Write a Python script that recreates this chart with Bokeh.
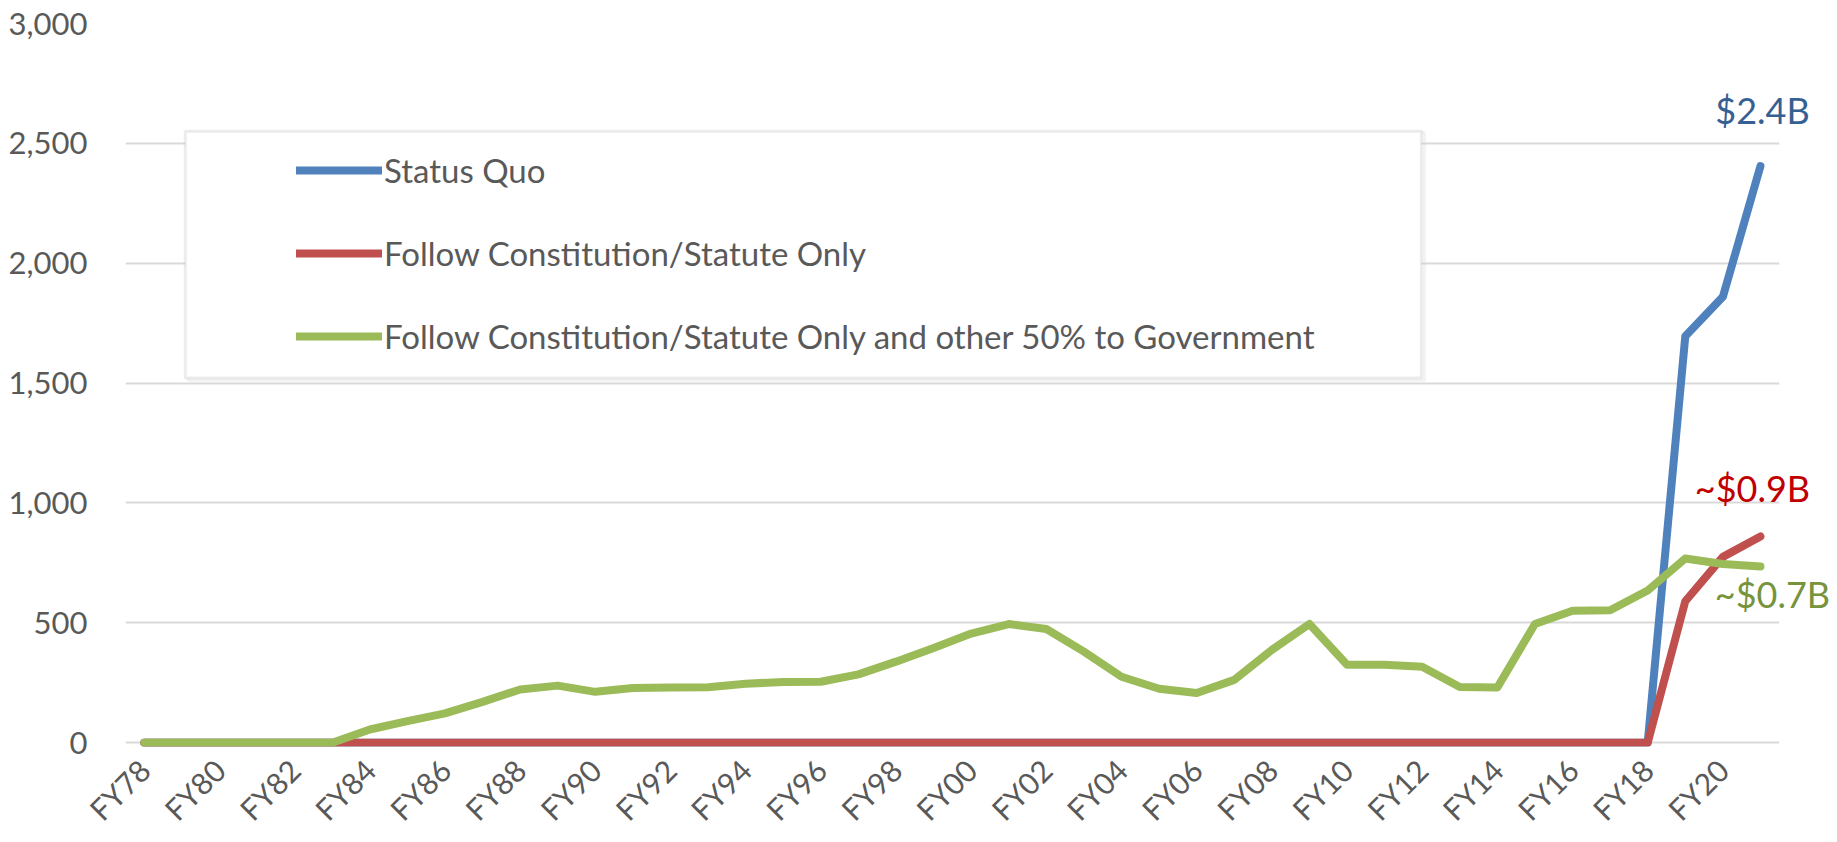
import math
from bokeh.plotting import figure
from bokeh.models import (Range1d, Legend, LegendItem, Label, BoxAnnotation,
                          NumeralTickFormatter, SingleIntervalTicker, FixedTicker)
from bokeh.embed import file_html
from bokeh.resources import INLINE

years = ["FY78", "FY79", "FY80", "FY81", "FY82", "FY83", "FY84", "FY85", "FY86", "FY87",
         "FY88", "FY89", "FY90", "FY91", "FY92", "FY93", "FY94", "FY95", "FY96", "FY97",
         "FY98", "FY99", "FY00", "FY01", "FY02", "FY03", "FY04", "FY05", "FY06", "FY07",
         "FY08", "FY09", "FY10", "FY11", "FY12", "FY13", "FY14", "FY15", "FY16", "FY17",
         "FY18", "FY19", "FY20", "FY21"]

status_quo = [0, 0, 0, 0, 0, 0, 0, 0, 0, 0,
              0, 0, 0, 0, 0, 0, 0, 0, 0, 0,
              0, 0, 0, 0, 0, 0, 0, 0, 0, 0,
              0, 0, 0, 0, 0, 0, 0, 0, 0, 0,
              0, 1695, 1860, 2405]

constitution_only = [0, 0, 0, 0, 0, 0, 0, 0, 0, 0,
                     0, 0, 0, 0, 0, 0, 0, 0, 0, 0,
                     0, 0, 0, 0, 0, 0, 0, 0, 0, 0,
                     0, 0, 0, 0, 0, 0, 0, 0, 0, 0,
                     0, 590, 775, 860]

constitution_50_gov = [0, 0, 0, 0, 0, 0, 55, 90, 122, 170,
                       222, 238, 212, 228, 230, 231, 246, 253, 254, 285,
                       338, 395, 455, 495, 474, 380, 275, 225, 207, 262,
                       387, 495, 325, 325, 317, 232, 230, 495, 550, 552,
                       635, 768, 745, 735]

series_names = ["Status Quo",
                "Follow Constitution/Statute Only",
                "Follow Constitution/Statute Only and other 50% to Government"]
end_labels = ["$2.4B", "~$0.9B", "~$0.7B"]

FONT = "Lato"
GREY = "#595959"

xs = list(range(len(years)))
last = len(years) - 1

p = figure(width=1837, height=842,
           x_range=Range1d(-0.5, 45.05), y_range=Range1d(-16, 3000),
           output_backend="svg", toolbar_location=None,
           min_border_left=125, min_border_right=0, min_border_top=23, min_border_bottom=96)
p.outline_line_color = None
p.background_fill_color = "white"
p.border_fill_color = "white"

p.xgrid.grid_line_color = None
p.ygrid.grid_line_color = "#D9D9D9"
p.ygrid.grid_line_width = 2

p.yaxis.ticker = SingleIntervalTicker(interval=500)
p.yaxis.formatter = NumeralTickFormatter(format="0,0")
label_idx = [i for i in xs if i % 2 == 0]
p.xaxis.ticker = FixedTicker(ticks=label_idx)
p.xaxis.major_label_overrides = {i: years[i] for i in label_idx}
for ax in (p.xaxis[0], p.yaxis[0]):
    ax.axis_line_color = None
    ax.major_tick_line_color = None
    ax.minor_tick_line_color = None
    ax.major_tick_out = 0
    ax.major_tick_in = 0
    ax.major_label_text_font = FONT
    ax.major_label_text_color = GREY

p.yaxis.major_label_text_font_size = "31px"
p.yaxis.major_label_standoff = 34
p.xaxis.major_label_text_font_size = "30px"
p.xaxis.major_label_orientation = math.pi / 4
p.xaxis.major_label_standoff = 18

# blank out gridlines to the right of the category area (plot area ends after last year)
p.add_layout(BoxAnnotation(left=last + 0.5, right=60, top=4000, bottom=-500,
                           fill_color="white", fill_alpha=1.0, line_color=None,
                           level="underlay"))

# legend frame with a faint shadow
p.add_layout(BoxAnnotation(left=1.17, right=34.06, top=2545, bottom=1512,
                           fill_color=None, line_color="#D6D6D6", line_width=3,
                           level="underlay"))
p.add_layout(BoxAnnotation(left=1.09, right=33.98, top=2551, bottom=1521,
                           fill_color="white", fill_alpha=1.0,
                           line_color="#BFBFBF", line_width=3, level="underlay"))

colors = ["#4F81BD", "#C0504D", "#9BBB59"]
data = [status_quo, constitution_only, constitution_50_gov]
renderers = []
for vals, c in zip(data, colors):
    r = p.line(xs, vals, line_color=c, line_width=8, line_cap="round", line_join="round")
    renderers.append(r)

legend = Legend(items=[LegendItem(label=n, renderers=[r]) for n, r in zip(series_names, renderers)],
                location=(171, 390), padding=0, margin=0, spacing=43,
                glyph_width=86, glyph_height=40, label_height=40, label_standoff=2,
                label_text_font=FONT, label_text_font_size="33px", label_text_color=GREY,
                border_line_color=None, background_fill_alpha=0)
p.add_layout(legend, "center")

label_colors = ["#376092", "#C00000", "#77933C"]
x_offsets = [2, -8, 12]
y_offsets = [56, 49, -28]
for txt, vals, c, dx, dy in zip(end_labels, data, label_colors, x_offsets, y_offsets):
    p.add_layout(Label(x=last, y=vals[-1], text=txt, x_offset=dx, y_offset=dy,
                       text_align="center", text_baseline="alphabetic",
                       text_font=FONT, text_font_size="36px", text_color=c))

open("out.html", "w").write(file_html(p, INLINE))
